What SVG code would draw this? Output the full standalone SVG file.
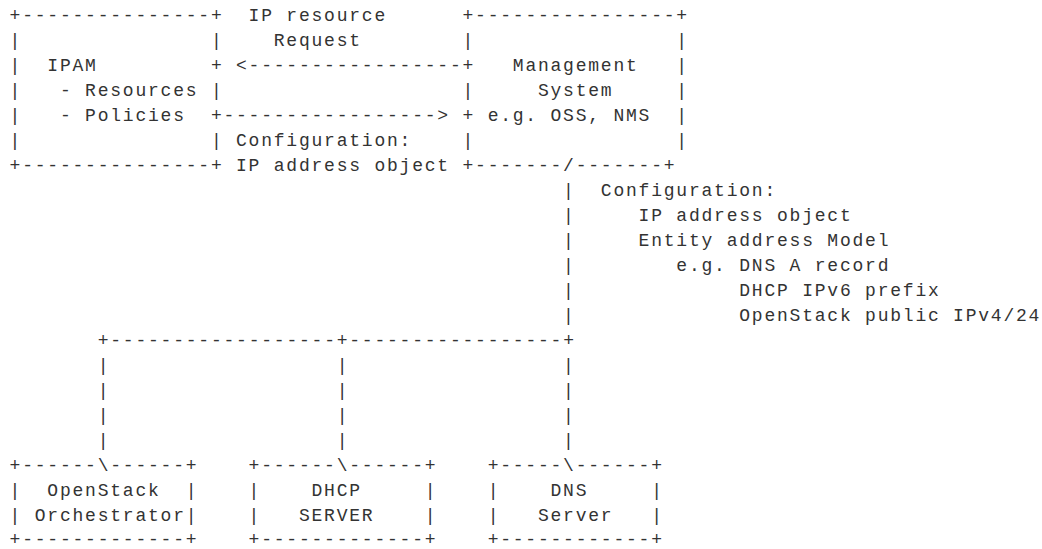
<svg xmlns="http://www.w3.org/2000/svg" width="1042" height="549" viewBox="0 0 1042 549">
<style>
text{font-family:"Liberation Mono","DejaVu Sans Mono",monospace;font-size:18px;letter-spacing:1.78px;fill:#333}
</style>
<rect width="1042" height="549" fill="#fff"/>
<g id="ipam">
<text x="9.6" y="21.3">+---------------+</text>
<text x="9.6 210.88" y="46.3">||</text>
<text x="9.6 210.88" y="71.3">|+</text>
<text x="9.6 210.88" y="96.3">||</text>
<text x="9.6 210.88" y="121.3">|+</text>
<text x="9.6 210.88" y="146.3">||</text>
<text x="9.6" y="171.3">+---------------+</text>
<text x="47.34" y="71.3">IPAM</text>
<text x="59.92" y="96.3">- Resources</text>
<text x="59.92" y="121.3">- Policies</text>
</g>
<g id="management">
<text x="462.48" y="21.3">+----------------+</text>
<text x="462.48 676.34" y="46.3">||</text>
<text x="462.48 676.34" y="71.3">+|</text>
<text x="462.48 676.34" y="96.3">||</text>
<text x="462.48 676.34" y="121.3">+|</text>
<text x="462.48 676.34" y="146.3">||</text>
<text x="462.48" y="171.3">+-------/-------+</text>
<text x="512.8" y="71.3">Management</text>
<text x="537.96" y="96.3">System</text>
<text x="487.64" y="121.3">e.g. OSS, NMS</text>
</g>
<g id="connectors">
<text x="248.62" y="21.3">IP resource</text>
<text x="273.78" y="46.3">Request</text>
<text x="236.04" y="71.3">&lt;-----------------</text>
<text x="223.46" y="121.3">-----------------&gt;</text>
<text x="236.04" y="146.3">Configuration:</text>
<text x="236.04" y="171.3">IP address object</text>
<text x="563.12" y="196.3">|</text>
<text x="563.12" y="221.3">|</text>
<text x="563.12" y="246.3">|</text>
<text x="563.12" y="271.3">|</text>
<text x="563.12" y="296.3">|</text>
<text x="563.12" y="321.3">|</text>
<text x="600.86" y="196.3">Configuration:</text>
<text x="638.6" y="221.3">IP address object</text>
<text x="638.6" y="246.3">Entity address Model</text>
<text x="676.34" y="271.3">e.g. DNS A record</text>
<text x="739.24" y="296.3">DHCP IPv6 prefix</text>
<text x="739.24" y="321.3">OpenStack public IPv4/24</text>
<text x="97.66" y="346.3">+------------------+-----------------+</text>
<text x="97.66 336.68 563.12" y="371.3">|||</text>
<text x="97.66 336.68 563.12" y="396.3">|||</text>
<text x="97.66 336.68 563.12" y="421.3">|||</text>
<text x="97.66 336.68 563.12" y="446.3">|||</text>
</g>
<g id="openstack">
<text x="9.6" y="471.3">+------\------+</text>
<text x="9.6 185.72" y="496.3">||</text>
<text x="9.6 185.72" y="521.3">||</text>
<text x="9.6" y="545">+-------------+</text>
<text x="47.34" y="496.3">OpenStack</text>
<text x="34.76" y="521.3">Orchestrator</text>
</g>
<g id="dhcp">
<text x="248.62" y="471.3">+------\------+</text>
<text x="248.62 424.74" y="496.3">||</text>
<text x="248.62 424.74" y="521.3">||</text>
<text x="248.62" y="545">+-------------+</text>
<text x="311.52" y="496.3">DHCP</text>
<text x="298.94" y="521.3">SERVER</text>
</g>
<g id="dns">
<text x="487.64" y="471.3">+-----\------+</text>
<text x="487.64 651.18" y="496.3">||</text>
<text x="487.64 651.18" y="521.3">||</text>
<text x="487.64" y="545">+------------+</text>
<text x="550.54" y="496.3">DNS</text>
<text x="537.96" y="521.3">Server</text>
</g>
</svg>
